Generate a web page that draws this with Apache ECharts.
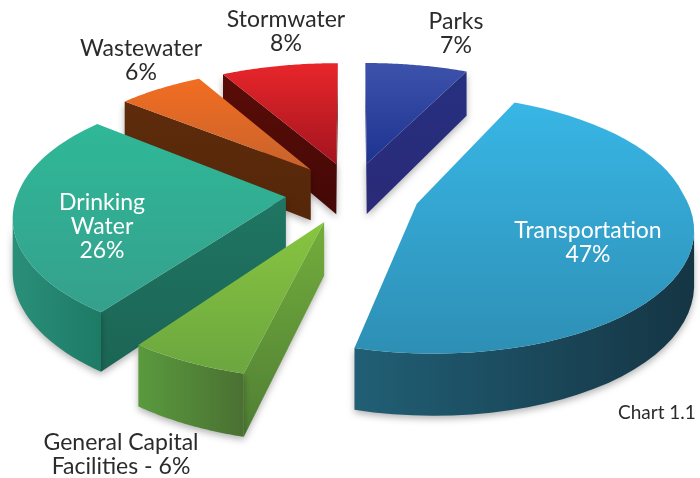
<!DOCTYPE html>
<html>
<head>
<meta charset="utf-8">
<style>html,body{margin:0;padding:0;background:#fff}#c{width:700px;height:478px}</style>
<script src="https://cdn.jsdelivr.net/npm/echarts@6/dist/echarts.min.js"></script>
</head>
<body>
<div id="c"></div>
<script>
// Capital budget shares, clockwise from twelve o'clock
const categories = ['Parks', 'Transportation', 'General Capital Facilities', 'Drinking Water', 'Wastewater', 'Stormwater'];
const shares = [7, 47, 6, 26, 6, 8];
const labelLines = [['Parks', '7%'], ['Transportation', '47%'], ['General Capital', 'Facilities - 6%'], ['Drinking', 'Water', '26%'], ['Wastewater', '6%'], ['Stormwater', '8%']];

// Face colours per slice: top gradient, cut wall, rim wall gradient (left to right)
const topFrom = ['#3c52ab', '#38b6e6', '#88c540', '#2fb898', '#f26d21', '#e8262a'];
const topTo = ['#1d3390', '#2e8fb4', '#6ba63f', '#35a08c', '#c8632c', '#a3141f'];
const cutFrom = ['#26307f', '#1d4a5c', '#74ad3c', '#1f7563', '#5e2c0c', '#5a0d08'];
const cutTo = ['#2a2a78', '#1d4a5c', '#4f7f34', '#1c6555', '#552609', '#440806'];
const rimFrom = ['#26307f', '#215f75', '#5a9a3e', '#2a8f7a', '#5e2c0c', '#5a0d08'];
const rimTo = ['#26307f', '#153544', '#4a7032', '#1d7a65', '#5e2c0c', '#5a0d08'];
// Back-to-front painting order, as indexes into the lists above
const paintOrder = [0, 5, 4, 3, 2, 1];

// Camera and explosion settings of the tilted pie
const center = [352.5, 193];
const scaleX = 268, scaleY = 124, perspective = 0.15, nearShear = 5, farSpread = 9;
const explodeBy = 0.25, thickness = 52, rimSteps = 48;
const labelSpots = [[456, 34], [588, 243], [121, 455], [102, 227], [141, 61], [286, 31.5]];
const labelColors = ['#2b2b2b', '#fff', '#2b2b2b', '#fff', '#2b2b2b', '#2b2b2b'];

function project(x, z, lift) {
  const s = 1 / (1 + perspective * z);
  const lean = z < 0 ? -nearShear * z : farSpread * x * z;
  return [center[0] + (x * scaleX + lean) * s, center[1] - z * scaleY * s + lift * s];
}

function grad(x2, y2, from, to) {
  return new echarts.graphic.LinearGradient(0, 0, x2, y2, [{ offset: 0, color: from }, { offset: 1, color: to }]);
}

const total = shares.reduce((a, b) => a + b, 0);

function renderSlice(params, api) {
  const i = params.dataIndex;
  let before = 0;
  for (let k = 0; k < i; k++) before += shares[k];
  const start = before / total * Math.PI * 2;
  const end = (before + api.value(0)) / total * Math.PI * 2;
  const mid = (start + end) / 2;
  const ox = Math.sin(mid) * explodeBy, oz = Math.cos(mid) * explodeBy;

  const ground = [];
  for (let k = 0; k <= rimSteps; k++) {
    const a = start + (end - start) * k / rimSteps;
    ground.push([ox + Math.sin(a), oz + Math.cos(a)]);
  }
  const apex = [ox, oz];
  const top = [apex].concat(ground).map(p => project(p[0], p[1], 0));
  const bottom = [apex].concat(ground).map(p => project(p[0], p[1], thickness));
  const z = paintOrder.indexOf(i) * 10;
  const children = [];
  const shadow = { shadowBlur: 7, shadowColor: 'rgba(0,0,0,0.3)', shadowOffsetY: 3 };

  // A wall faces the viewer when its top edge runs right to left on screen
  const addCut = (a, b) => {
    if (top[b][0] - top[a][0] < -0.01) {
      children.push({
        type: 'polygon', z2: z + 1,
        shape: { points: [top[a], top[b], bottom[b], bottom[a]] },
        style: Object.assign({ fill: grad(0, 1, cutFrom[i], cutTo[i]) }, shadow)
      });
    }
  };
  addCut(0, 1);
  addCut(top.length - 1, 0);

  const upper = [], lower = [];
  for (let k = 1; k < top.length - 1; k++) {
    if (top[k + 1][0] < top[k][0]) {
      if (!upper.length) { upper.push(top[k]); lower.push(bottom[k]); }
      upper.push(top[k + 1]); lower.push(bottom[k + 1]);
    }
  }
  if (upper.length) {
    children.push({
      type: 'polygon', z2: z + 1,
      shape: { points: upper.concat(lower.slice().reverse()) },
      style: Object.assign({ fill: grad(1, 0, rimFrom[i], rimTo[i]) }, shadow)
    });
  }

  children.push({
    type: 'polygon', z2: z + 3,
    shape: { points: top },
    style: { fill: grad(0, 1, topFrom[i], topTo[i]) }
  });

  children.push({
    type: 'text', z2: 100,
    x: labelSpots[i][0], y: labelSpots[i][1],
    style: {
      text: labelLines[i].join('\n'), fill: labelColors[i],
      font: '23px Lato', align: 'center', verticalAlign: 'middle', lineHeight: 24
    }
  });
  return { type: 'group', children };
}

const chart = echarts.init(document.getElementById('c'), null, { renderer: 'canvas' });
chart.setOption({
  animation: false,
  backgroundColor: '#fff',
  graphic: [{
    type: 'text', left: 618, top: 403,
    style: { text: 'Chart 1.1', fill: '#2b2b2b', font: '19px Lato' }
  }],
  series: [{
    type: 'custom',
    coordinateSystem: 'none',
    silent: true,
    data: categories.map((name, i) => ({ name, value: [shares[i]] })),
    renderItem: renderSlice
  }]
});
</script>
</body>
</html>
